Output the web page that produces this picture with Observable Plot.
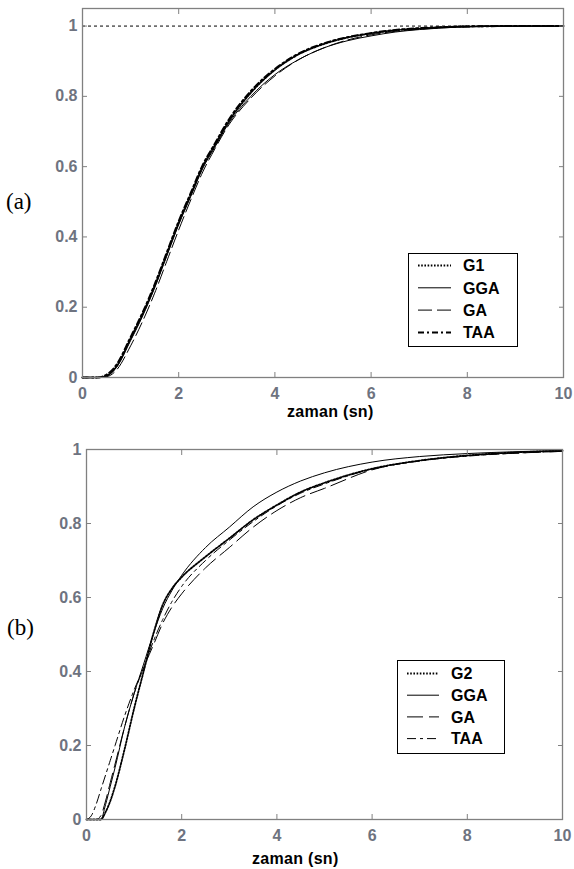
<!DOCTYPE html>
<html><head><meta charset="utf-8">
<script src="https://cdn.jsdelivr.net/npm/d3@7"></script>
<script src="https://cdn.jsdelivr.net/npm/@observablehq/plot@0.6"></script>
<style>
body{margin:0;background:#fff;width:574px;height:869px;position:relative;overflow:hidden;font-family:Arial,"Liberation Sans",sans-serif}
.panel{position:absolute;left:0}
.plabel{position:absolute;font-family:"Liberation Serif","Times New Roman",serif;font-size:23px;line-height:1}
.legend{position:absolute;border:1px solid #000;background:#fff;box-sizing:border-box}
.xlab{position:absolute;font-weight:bold;font-size:16px;color:#000;line-height:1;white-space:nowrap;letter-spacing:0.3px}
</style></head><body>
<div id="a" class="panel" style="top:0"></div>
<div id="b" class="panel" style="top:420px"></div>
<div class="plabel" style="left:6px;top:190px">(a)</div>
<div class="plabel" style="left:7px;top:616px">(b)</div>
<div class="xlab" style="left:287px;top:404px">zaman (sn)</div>
<div class="xlab" style="left:252px;top:851px">zaman (sn)</div>
<script>
// x tick values and labels
const xTicks = [0, 2, 4, 6, 8, 10];
const yTicks = [0, 0.2, 0.4, 0.6, 0.8, 1];
const yTickLabels = ["0", "0.2", "0.4", "0.6", "0.8", "1"];

// Panel (a)
const tA   = [0,0.3,0.5,0.7,1,1.25,1.5,1.75,2,2.25,2.5,2.75,3,3.5,4,4.5,5,5.5,6,6.5,7,7.5,8,9,10];
const g1A  = [0,0,0.005,0.03,0.11,0.18,0.26,0.35,0.44,0.52,0.60,0.66,0.72,0.81,0.875,0.92,0.948,0.967,0.979,0.988,0.993,0.997,0.999,1,1];
const ggaA = [0,0,0.004,0.028,0.105,0.175,0.255,0.345,0.435,0.515,0.595,0.655,0.715,0.80,0.862,0.905,0.937,0.958,0.972,0.983,0.99,0.995,0.998,1,1];
const gaA  = [0,0,0.002,0.02,0.09,0.16,0.24,0.33,0.42,0.505,0.585,0.65,0.71,0.795,0.858,0.905,0.937,0.96,0.975,0.985,0.991,0.995,0.998,1,1];
const taaA = [0,0,0.008,0.035,0.115,0.185,0.265,0.355,0.445,0.525,0.605,0.665,0.725,0.815,0.878,0.922,0.95,0.968,0.98,0.989,0.994,0.997,0.999,1,1];

// Panel (b)
const tB   = [0,0.1,0.2,0.3,0.4,0.5,0.6,0.8,1,1.2,1.4,1.6,1.8,2,2.5,3,3.5,4,4.5,5,6,7,8,9,10];
const g2B  = [0,0,0,0,0.02,0.05,0.09,0.19,0.30,0.40,0.50,0.58,0.625,0.655,0.71,0.76,0.81,0.85,0.885,0.91,0.948,0.97,0.984,0.992,0.997];
const ggaB = [0,0,0,0,0.04,0.09,0.14,0.25,0.34,0.42,0.50,0.57,0.62,0.66,0.735,0.79,0.845,0.885,0.915,0.937,0.966,0.981,0.989,0.994,0.997];
const gaB  = [0,0,0,0.01,0.05,0.10,0.15,0.25,0.34,0.41,0.47,0.53,0.575,0.61,0.68,0.735,0.79,0.835,0.87,0.895,0.945,0.97,0.983,0.99,0.995];
const taaB = [0,0.01,0.04,0.08,0.12,0.16,0.20,0.28,0.35,0.41,0.48,0.54,0.59,0.63,0.70,0.755,0.805,0.848,0.882,0.907,0.947,0.969,0.982,0.99,0.995];

const namesA = ["G1", "GGA", "GA", "TAA"];
const namesB = ["G2", "GGA", "GA", "TAA"];

const stylesA = [
  {dash: "1.6,1.6", width: 1.8},
  {dash: null, width: 1},
  {dash: "14,5", width: 1},
  {dash: "6,3,2,3", width: 2}
];
const stylesB = [
  {dash: "1.6,1.6", width: 1.8},
  {dash: null, width: 1},
  {dash: "16,6", width: 1},
  {dash: "9,4,3,4", width: 1}
];

const tickColor = "#6e7380";
const frameColor = "#808080";

function panel(t, seriesList, styles, o) {
  const marks = [
    Plot.ruleY([1], {stroke: "#000", strokeDasharray: "3,3", strokeWidth: 1}),
  ];
  seriesList.forEach((vals, i) => {
    const data = t.map((x, j) => ({x, y: vals[j]}));
    marks.push(Plot.line(data, {x: "x", y: "y", stroke: "#000", curve: "monotone-x",
      strokeWidth: styles[i].width,
      strokeDasharray: styles[i].dash || undefined}));
  });
  marks.push(
    Plot.frame({stroke: frameColor, strokeWidth: 1.3}),
    Plot.axisX({ticks: xTicks, tickSize: -5, tickPadding: 15, stroke: frameColor,
      fill: tickColor, fontSize: 16, fontWeight: "bold", label: null, tickFormat: d => String(d)}),
    Plot.axisX({anchor: "top", ticks: xTicks, tickSize: -5, stroke: frameColor, label: null, tickFormat: () => ""}),
    Plot.axisY({ticks: yTicks, tickSize: -5, tickPadding: 10, stroke: frameColor,
      fill: tickColor, fontSize: 16, fontWeight: "bold", label: null,
      tickFormat: d => yTickLabels[yTicks.findIndex(v => Math.abs(v - d) < 1e-9)]}),
    Plot.axisY({anchor: "right", ticks: yTicks, tickSize: -5, stroke: frameColor, label: null, tickFormat: () => ""})
  );
  return Plot.plot({
    width: 574, height: o.height,
    marginLeft: o.ml, marginRight: o.mr, marginTop: o.mt, marginBottom: o.mb,
    x: {domain: [0, 10]},
    y: {domain: o.ydom},
    style: {background: "#fff", fontFamily: "Arial, 'Liberation Sans', sans-serif", overflow: "visible"},
    marks
  });
}

document.getElementById("a").appendChild(
  panel(tA, [g1A, ggaA, gaA, taaA], stylesA, {height: 420, ml: 82, mr: 11, mt: 8, mb: 43, ydom: [0, 1.05]}));
document.getElementById("b").appendChild(
  panel(tB, [g2B, ggaB, gaB, taaB], stylesB, {height: 449, ml: 86, mr: 12, mt: 29, mb: 50, ydom: [0, 1]}));

function legend(names, styles, o) {
  const div = document.createElement("div");
  div.className = "legend";
  div.style.left = o.left + "px"; div.style.top = o.top + "px";
  div.style.width = o.w + "px"; div.style.height = o.h + "px";
  const ns = "http://www.w3.org/2000/svg";
  const svg = document.createElementNS(ns, "svg");
  svg.setAttribute("width", o.w); svg.setAttribute("height", o.h);
  svg.style.position = "absolute"; svg.style.left = "-1px"; svg.style.top = "-1px";
  names.forEach((n, i) => {
    const y = o.y0 + i * o.dy;
    const l = document.createElementNS(ns, "line");
    l.setAttribute("x1", o.lx1); l.setAttribute("x2", o.lx2);
    l.setAttribute("y1", y); l.setAttribute("y2", y);
    l.setAttribute("stroke", "#000");
    l.setAttribute("stroke-width", styles[i].width);
    if (styles[i].dash) l.setAttribute("stroke-dasharray", styles[i].dash);
    svg.appendChild(l);
    const tx = document.createElementNS(ns, "text");
    tx.setAttribute("x", o.tx); tx.setAttribute("y", y);
    tx.setAttribute("dy", "0.36em");
    tx.setAttribute("font-family", "Arial, 'Liberation Sans', sans-serif");
    tx.setAttribute("font-weight", "bold");
    tx.setAttribute("font-size", "16");
    tx.textContent = n;
    svg.appendChild(tx);
  });
  div.appendChild(svg);
  document.body.appendChild(div);
}
legend(namesA, stylesA, {left: 408, top: 253, w: 110, h: 94, y0: 12.5, dy: 22.3, lx1: 10, lx2: 43, tx: 55});
legend(namesB, stylesB, {left: 397, top: 660, w: 108, h: 94, y0: 13.5, dy: 21.7, lx1: 10, lx2: 42, tx: 54});
</script>
</body></html>
